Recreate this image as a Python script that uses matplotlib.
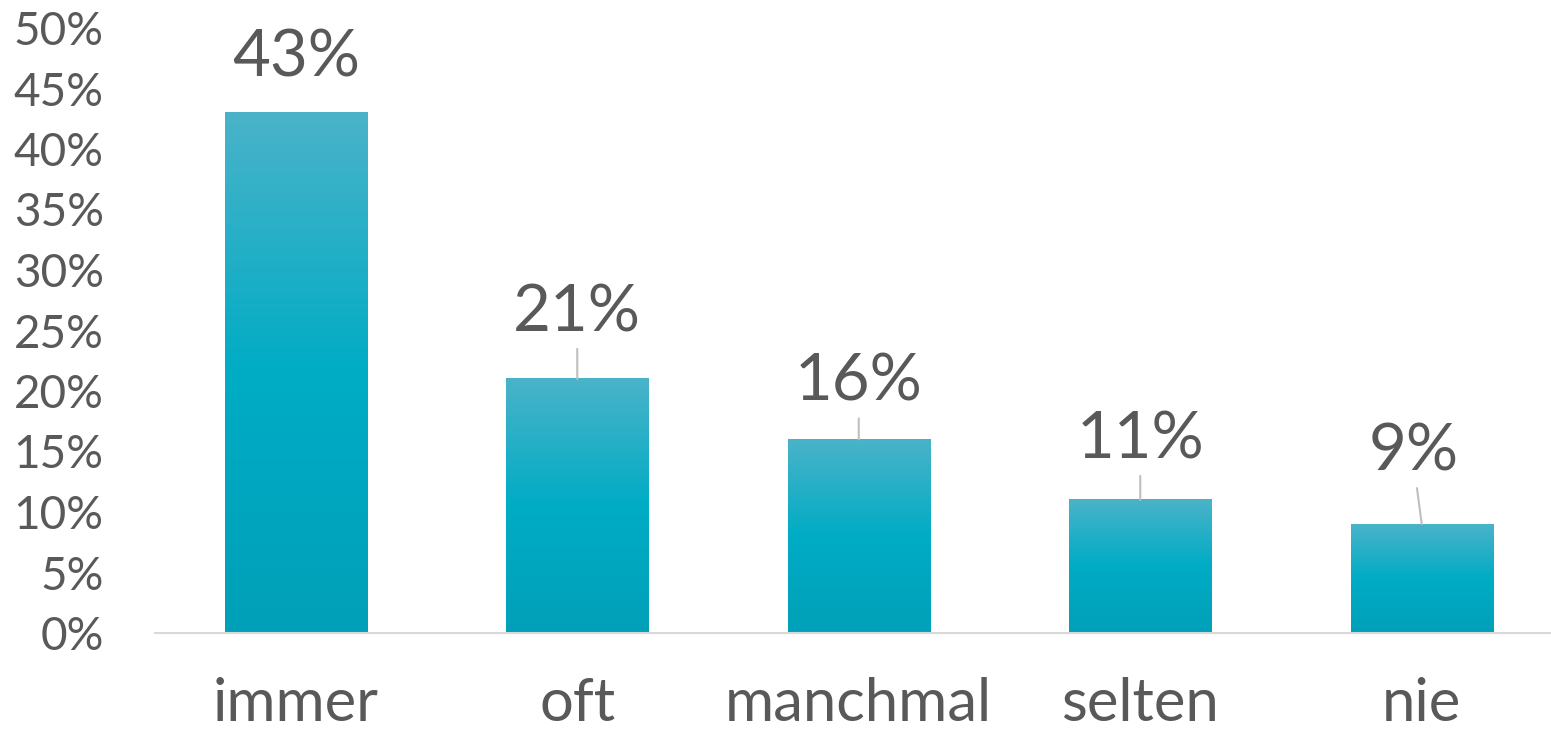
import numpy as np
import matplotlib.pyplot as plt
from matplotlib.colors import LinearSegmentedColormap

# ---- Daten ----
categories = ["immer", "oft", "manchmal", "selten", "nie"]
values = [43, 21, 16, 11, 9]
y_ticks = [0, 5, 10, 15, 20, 25, 30, 35, 40, 45, 50]

# ---- Stil ----
TEXT_COLOR = "#595959"
AXIS_COLOR = "#D9D9D9"
LEADER_COLOR = "#BFBFBF"
BAR_WIDTH = 0.505
# Label-Versatz über dem Balken (Pixel) und ob eine Führungslinie gezeichnet wird
label_offsets = [(0, 55), (0, 66), (0, 57), (0, 60), (-8, 72)]
leader = [False, True, True, True, True]

plt.rcParams["font.family"] = ["Lato", "DejaVu Sans"]

grad = LinearSegmentedColormap.from_list(
    "bar", [(0.0, "#00A0B8"), (0.5, "#00ACC5"), (1.0, "#4AB3C9")])

fig = plt.figure(figsize=(15.51, 7.38), dpi=100)
ax = fig.add_axes([155 / 1551, 105 / 738, 1396 / 1551, 605 / 738])

x = np.arange(len(categories))
bars = ax.bar(x, values, width=BAR_WIDTH, color="none", zorder=2)

g = np.linspace(0, 1, 256).reshape(-1, 1)
for b in bars:
    x0, w, h = b.get_x(), b.get_width(), b.get_height()
    ax.imshow(g, extent=[x0, x0 + w, 0, h], origin="lower", aspect="auto",
              cmap=grad, zorder=2)

for i, (xi, v) in enumerate(zip(x, values)):
    dx, dy = label_offsets[i]
    ax.annotate(f"{v}%", xy=(xi, v), xytext=(dx, dy), textcoords="offset pixels",
                ha="center", va="center", fontsize=47, color=TEXT_COLOR,
                annotation_clip=False)
    if leader[i]:
        ax.annotate("", xy=(xi, v), xytext=(dx * 0.6, dy - 36),
                    textcoords="offset pixels",
                    arrowprops=dict(arrowstyle="-", color=LEADER_COLOR, lw=1.5,
                                    shrinkA=0, shrinkB=0))

ax.set_xlim(-0.5, -0.5 + 1396 / 281.5)
ax.set_ylim(0, 50)
ax.set_yticks(y_ticks)
ax.set_yticklabels([f"{t}%" for t in y_ticks])
ax.set_xticks(x)
ax.set_xticklabels(categories)

for s in ["top", "right", "left"]:
    ax.spines[s].set_visible(False)
ax.spines["bottom"].set_color(AXIS_COLOR)
ax.spines["bottom"].set_linewidth(1.5)
ax.tick_params(axis="y", length=0, labelsize=33, labelcolor=TEXT_COLOR, pad=37)
ax.tick_params(axis="x", length=0, labelsize=43, labelcolor=TEXT_COLOR, pad=32)

fig.savefig("out.png", dpi=100)
